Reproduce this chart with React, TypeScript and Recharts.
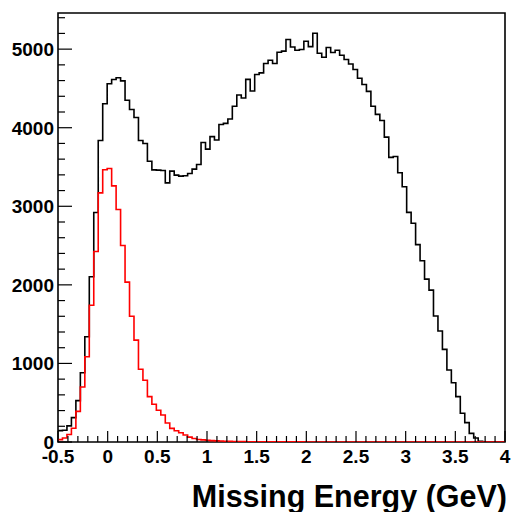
import { ComposedChart, Line, XAxis, YAxis, ReferenceArea } from "recharts";

// 100 bins from -0.5 to 4 GeV (width 0.045)
const binLow = -0.5;
const binWidth = 0.045;

const allEvents = [
  145, 150, 205, 310, 526, 882, 1340, 2103, 2920, 3838,
  4305, 4560, 4613, 4636, 4596, 4350, 4232, 4130, 3837, 3799,
  3574, 3464, 3460, 3455, 3298, 3447, 3396, 3384, 3388, 3418,
  3473, 3532, 3812, 3727, 3886, 3843, 4041, 4055, 4111, 4274,
  4416, 4378, 4615, 4467, 4677, 4698, 4817, 4859, 4817, 4961,
  4975, 5122, 5028, 4986, 4995, 5101, 5032, 5203, 4948, 4897,
  5020, 4958, 4986, 4923, 4868, 4810, 4740, 4630, 4550, 4462,
  4274, 4170, 4092, 3880, 3623, 3634, 3426, 3248, 2923, 2785,
  2512, 2306, 2073, 1933, 1603, 1412, 1179, 916, 755, 577,
  365, 246, 110, 51, 8, 0, 0, 0, 0, 0,
];

const signalEvents = [
  30, 50, 95, 175, 390, 700, 1085, 1740, 2425, 3171,
  3465, 3480, 3260, 2960, 2500, 2035, 1600, 1297, 925, 785,
  577, 480, 405, 343, 242, 174, 144, 117, 89, 62,
  45, 32, 27, 22, 18, 14, 12, 10, 8, 7,
  6, 5, 4, 4, 3, 3, 2, 2, 2, 1,
  1, 1, 1, 1, 1, 0, 0, 0, 0, 0,
  0, 0, 0, 0, 0, 0, 0, 0, 0, 0,
  0, 0, 0, 0, 0, 0, 0, 0, 0, 0,
  0, 0, 0, 0, 0, 0, 0, 0, 0, 0,
  0, 0, 0, 0, 0, 0, 0, 0, 0, 0,
];

const xMajorTicks = [-0.5, 0, 0.5, 1, 1.5, 2, 2.5, 3, 3.5, 4];
const yMajorTicks = [0, 1000, 2000, 3000, 4000, 5000];
const yMax = 5460;

// step histogram: one point per bin low edge, plus the last upper edge
const data = allEvents.map((v, i) => ({
  x: binLow + binWidth * i,
  all: v,
  signal: signalEvents[i],
}));
data.push({ x: 4, all: allEvents[99], signal: signalEvents[99] });

const xTicks: number[] = [];
for (let k = 0; k <= 45; k++) xTicks.push(Math.round((-0.5 + 0.1 * k) * 10) / 10);
const yTicks: number[] = [];
for (let v = 0; v <= 5400; v += 200) yTicks.push(v);

const font = "'Liberation Sans', Arial, Helvetica, sans-serif";

function XTick(props: any) {
  const { x, y, payload } = props;
  const major = xMajorTicks.includes(payload.value);
  return (
    <g>
      <line x1={x} x2={x} y1={y} y2={y - (major ? 11 : 6)} stroke="#000" strokeWidth={1.2} />
      {major && (
        <text x={x} y={y + 21} textAnchor="middle" fontFamily={font} fontWeight="bold" fontSize={19} fill="#000">
          {String(payload.value)}
        </text>
      )}
    </g>
  );
}

function YTick(props: any) {
  const { x, y, payload } = props;
  const major = yMajorTicks.includes(payload.value);
  return (
    <g>
      <line x1={x} x2={x + (major ? 14 : 7)} y1={y} y2={y} stroke="#000" strokeWidth={1.2} />
      {major && (
        <text x={x - 4} y={y + 7} textAnchor="end" fontFamily={font} fontWeight="bold" fontSize={19} fill="#000">
          {String(payload.value)}
        </text>
      )}
    </g>
  );
}

function XTitle(props: any) {
  const vb = props.viewBox || { x: 58, y: 442, width: 447, height: 70 };
  return (
    <text x={vb.x + vb.width + 2} y={vb.y + 65} textAnchor="end" fontFamily={font} fontWeight="bold" fontSize={30.5} fill="#000">
      Missing Energy (GeV)
    </text>
  );
}

export default function App() {
  return (
    <div style={{ position: "absolute", left: 0, top: 0, width: 511, height: 512, background: "#fff" }}>
      <ComposedChart width={511} height={512} data={data} margin={{ top: 13, right: 6, bottom: 0, left: 0 }}>
        <XAxis
          dataKey="x"
          type="number"
          domain={[-0.5, 4]}
          ticks={xTicks}
          interval={0}
          height={70}
          tickSize={0}
          tickMargin={0}
          tickLine={false}
          axisLine={false}
          tick={<XTick />}
          label={<XTitle />}
          allowDataOverflow
        />
        <YAxis
          type="number"
          domain={[0, yMax]}
          ticks={yTicks}
          interval={0}
          width={58}
          tickSize={0}
          tickMargin={0}
          tickLine={false}
          axisLine={false}
          tick={<YTick />}
          allowDataOverflow
        />
        <Line type="stepAfter" dataKey="all" stroke="#000" strokeWidth={1.6} dot={false} isAnimationActive={false} />
        <Line type="stepAfter" dataKey="signal" stroke="#ff0000" strokeWidth={1.6} dot={false} isAnimationActive={false} />
        <ReferenceArea x1={-0.5} x2={4} y1={0} y2={yMax} fill="none" stroke="#000" strokeWidth={1.6} ifOverflow="visible" />
      </ComposedChart>
    </div>
  );
}
